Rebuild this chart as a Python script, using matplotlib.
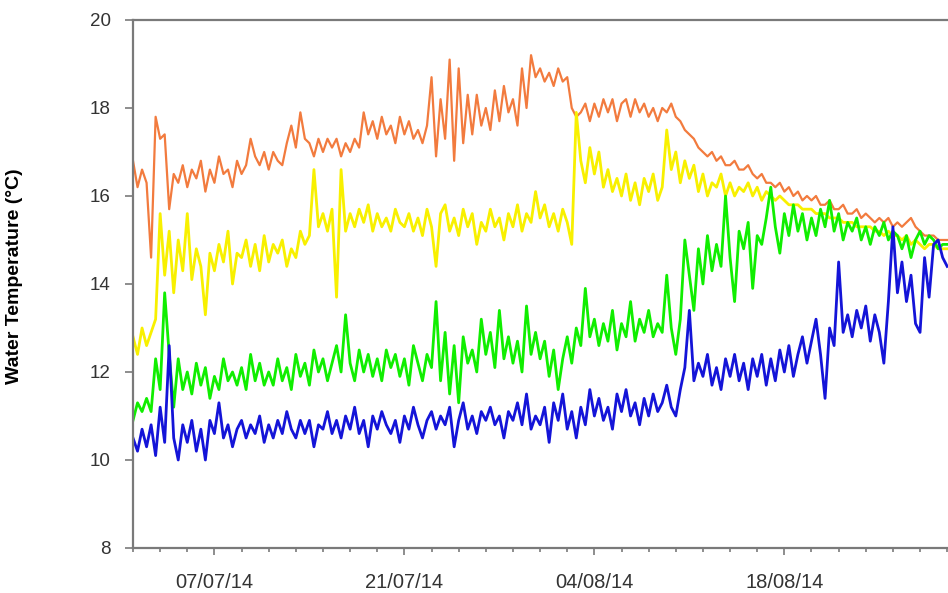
import numpy as np
import pandas as pd
import matplotlib
matplotlib.use("Agg")
import matplotlib.pyplot as plt
import matplotlib.dates as mdates
from matplotlib.ticker import FixedLocator

# water temperature, 3 readings per day from 01/07/14
orange = [16.8, 16.2, 16.6, 16.3, 14.6, 17.8, 17.3, 17.4, 15.7, 16.5, 16.3, 16.7,
          16.2, 16.6, 16.4, 16.8, 16.1, 16.6, 16.3, 16.9, 16.5, 16.6, 16.2, 16.8,
          16.5, 16.7, 17.3, 16.9, 16.7, 17.0, 16.6, 17.0, 16.8, 16.7, 17.2, 17.6,
          17.1, 17.9, 17.3, 17.2, 16.9, 17.3, 17.0, 17.3, 17.1, 17.3, 16.9, 17.2,
          17.0, 17.3, 17.1, 17.9, 17.4, 17.7, 17.3, 17.8, 17.4, 17.6, 17.2, 17.8,
          17.4, 17.7, 17.3, 17.5, 17.2, 17.6, 18.7, 16.9, 18.2, 17.3, 19.1, 16.8,
          18.9, 17.2, 18.3, 17.4, 18.3, 17.6, 18.0, 17.5, 18.4, 17.7, 18.5, 17.9,
          18.2, 17.6, 18.9, 18.0, 19.2, 18.7, 18.9, 18.6, 18.8, 18.5, 18.9, 18.6,
          18.7, 18.0, 17.8, 17.9, 18.1, 17.7, 18.1, 17.8, 18.2, 17.9, 18.2, 17.7,
          18.1, 18.2, 17.8, 18.2, 17.9, 18.1, 17.8, 18.0, 17.7, 18.0, 17.9, 18.1,
          17.8, 17.7, 17.5, 17.4, 17.3, 17.1, 17.0, 16.9, 17.0, 16.8, 16.9, 16.7,
          16.7, 16.8, 16.6, 16.6, 16.7, 16.5, 16.4, 16.5, 16.3, 16.3, 16.2, 16.3,
          16.1, 16.2, 16.0, 16.1, 15.9, 16.0, 15.9, 16.0, 15.8, 15.8, 15.9, 15.7,
          15.7, 15.8, 15.6, 15.6, 15.7, 15.5, 15.6, 15.5, 15.4, 15.5, 15.4, 15.5,
          15.3, 15.4, 15.3, 15.4, 15.5, 15.3, 15.2, 15.1, 15.1, 15.1, 15.0, 15.0,
          15.0]

yellow = [12.8, 12.4, 13.0, 12.6, 12.9, 13.2, 15.6, 14.2, 15.2, 13.8, 15.0, 14.3,
          15.6, 14.1, 14.8, 14.4, 13.3, 14.7, 14.3, 14.9, 14.5, 15.2, 14.0, 14.7,
          14.6, 15.0, 14.4, 14.9, 14.3, 15.1, 14.5, 14.9, 14.7, 15.0, 14.4, 14.8,
          14.6, 15.2, 14.9, 15.1, 16.6, 15.3, 15.6, 15.2, 15.7, 13.7, 16.6, 15.2,
          15.6, 15.3, 15.7, 15.4, 15.8, 15.2, 15.6, 15.3, 15.5, 15.2, 15.7, 15.4,
          15.3, 15.6, 15.2, 15.5, 15.1, 15.7, 15.3, 14.4, 15.6, 15.8, 15.2, 15.5,
          15.1, 15.7, 15.3, 15.6, 14.9, 15.4, 15.2, 15.7, 15.3, 15.5, 15.0, 15.6,
          15.3, 15.8, 15.2, 15.6, 15.4, 16.1, 15.5, 15.8, 15.3, 15.6, 15.2, 15.7,
          15.4, 14.9, 17.9, 16.8, 16.3, 17.1, 16.5, 17.0, 16.2, 16.6, 16.1, 16.4,
          16.0, 16.5, 15.9, 16.3, 15.8, 16.4, 16.1, 16.5, 15.9, 16.2, 17.5, 16.6,
          17.0, 16.3, 16.8, 16.4, 16.7, 16.1, 16.5, 16.0, 16.3, 16.2, 16.5, 16.0,
          16.3, 16.0, 16.2, 16.1, 16.3, 16.0, 16.2, 15.9, 16.1, 16.0, 15.9, 16.0,
          15.9, 15.8, 15.8, 15.8, 15.7, 15.7, 15.7, 15.6, 15.6, 15.6, 15.5, 15.5,
          15.5, 15.4, 15.4, 15.4, 15.3, 15.3, 15.3, 15.3, 15.2, 15.2, 15.1, 15.2,
          15.1, 15.1, 15.0, 15.1, 14.9, 15.0, 14.9, 14.8, 14.9, 14.9, 14.8, 14.8,
          14.8]

green = [10.9, 11.3, 11.1, 11.4, 11.1, 12.3, 11.6, 13.8, 12.4, 11.2, 12.3, 11.6,
         12.0, 11.5, 12.2, 11.7, 12.1, 11.4, 11.9, 11.6, 12.3, 11.8, 12.0, 11.7,
         12.1, 11.6, 12.4, 11.8, 12.2, 11.7, 12.0, 11.7, 12.3, 11.8, 12.1, 11.6,
         12.4, 11.9, 12.2, 11.7, 12.5, 12.0, 12.3, 11.8, 12.2, 12.6, 12.0, 13.3,
         12.2, 11.8, 12.5, 12.0, 12.4, 11.9, 12.3, 11.8, 12.5, 12.1, 12.4, 11.9,
         12.3, 11.7, 12.6, 12.2, 11.8, 12.4, 12.1, 13.6, 11.8, 12.9, 11.5, 12.6,
         11.3, 12.8, 12.2, 12.5, 12.0, 13.2, 12.4, 12.9, 12.1, 13.4, 12.3, 12.8,
         12.2, 12.7, 12.0, 13.5, 12.4, 12.9, 12.3, 12.7, 11.9, 12.5, 11.6, 12.3,
         12.8, 12.2, 13.0, 12.6, 13.9, 12.8, 13.2, 12.6, 13.1, 12.7, 13.4, 12.5,
         13.1, 12.8, 13.6, 12.7, 13.2, 12.9, 13.4, 12.8, 13.1, 12.9, 14.2, 13.0,
         12.4, 13.2, 15.0, 14.2, 13.4, 14.8, 14.0, 15.1, 14.3, 14.9, 14.4, 16.0,
         14.6, 13.6, 15.2, 14.8, 15.4, 13.9, 15.1, 14.9, 15.5, 16.2, 15.3, 14.7,
         15.6, 15.1, 15.8, 15.2, 15.6, 15.0, 15.5, 15.1, 15.7, 15.3, 15.9, 15.2,
         15.6, 15.0, 15.4, 15.2, 15.5, 15.0, 15.3, 14.9, 15.3, 15.1, 15.4, 15.0,
         15.2, 15.1, 14.8, 15.1, 14.6, 15.0, 15.2, 14.9, 15.1, 15.0, 14.8, 14.9,
         14.9]

blue = [10.5, 10.2, 10.7, 10.3, 10.8, 10.1, 11.2, 10.4, 12.6, 10.5, 10.0, 10.8,
        10.4, 10.9, 10.2, 10.7, 10.0, 10.9, 10.6, 11.3, 10.5, 10.8, 10.3, 10.7,
        10.9, 10.5, 10.8, 10.6, 11.0, 10.4, 10.8, 10.5, 10.9, 10.6, 11.1, 10.7,
        10.5, 10.9, 10.6, 10.9, 10.3, 10.8, 10.7, 11.1, 10.6, 10.9, 10.5, 11.0,
        10.7, 11.2, 10.6, 10.9, 10.3, 11.0, 10.7, 11.1, 10.8, 10.6, 10.9, 10.4,
        11.0, 10.7, 11.2, 10.8, 10.5, 10.9, 11.1, 10.7, 11.0, 10.8, 11.2, 10.3,
        10.9, 11.3, 10.7, 11.0, 10.6, 11.1, 10.9, 11.2, 10.8, 11.0, 10.5, 11.1,
        10.9, 11.3, 10.8, 11.5, 10.7, 11.0, 10.8, 11.2, 10.4, 11.3, 10.9, 11.5,
        10.7, 11.1, 10.5, 11.2, 10.8, 11.6, 11.0, 11.4, 10.9, 11.2, 10.7, 11.5,
        11.1, 11.6, 11.0, 11.3, 10.8, 11.4, 11.0, 11.5, 11.1, 11.3, 11.7, 11.2,
        11.0, 11.6, 12.1, 13.4, 11.8, 12.2, 11.9, 12.4, 11.7, 12.1, 11.6, 12.3,
        11.9, 12.4, 11.8, 12.2, 11.6, 12.3, 11.9, 12.4, 11.7, 12.3, 11.8, 12.5,
        12.0, 12.6, 11.9, 12.4, 12.8, 12.2, 12.7, 13.2, 12.4, 11.4, 13.0, 12.6,
        14.5, 12.9, 13.3, 12.8, 13.4, 13.0, 13.5, 12.7, 13.3, 12.9, 12.2, 13.6,
        15.3, 13.8, 14.5, 13.6, 14.2, 13.1, 12.9, 14.6, 13.7, 14.9, 15.0, 14.6,
        14.4]

series_colors = ["#F27B3E", "#F8F000", "#10EE00", "#1414D8"]
series_widths = [1.6, 2.0, 2.0, 2.0]
major_ticks = ["2014-07-07", "2014-07-21", "2014-08-04", "2014-08-18", "2014-09-01"]

times = pd.date_range("2014-07-01", periods=len(orange), freq="8h")

plt.rcParams['font.family'] = ['Liberation Sans', 'DejaVu Sans']

fig = plt.figure(figsize=(9.48, 5.93), dpi=100)
ax = fig.add_axes([0.1403, 0.0759, 0.8597, 0.8904])

for vals, col, w in zip([orange, yellow, green, blue], series_colors, series_widths):
    ax.plot(times[:len(vals)], vals, color=col, lw=w)

ax.set_ylim(8, 20)
ax.set_yticks(np.arange(8, 21, 2))
x0 = mdates.date2num(pd.Timestamp("2014-07-01"))
ax.set_xlim(x0, x0 + 60.06)

ax.xaxis.set_major_locator(FixedLocator(mdates.date2num(pd.to_datetime(major_ticks))))
ax.xaxis.set_minor_locator(FixedLocator(
    mdates.date2num(pd.date_range("2014-07-01", "2014-09-01", freq="2D"))))
ax.xaxis.set_major_formatter(mdates.DateFormatter("%d/%m/%y"))

for side in ["left", "bottom", "top"]:
    ax.spines[side].set_color("#7a7a7a")
    ax.spines[side].set_linewidth(1.6)
ax.spines["right"].set_visible(False)

ax.tick_params(axis="x", which="major", length=5, width=1.2, color="#7a7a7a",
               labelsize=14.5, labelcolor="#333333", pad=13)
ax.tick_params(axis="x", which="minor", length=3, width=1.2, color="#7a7a7a")
ax.tick_params(axis="y", length=6, width=1.2, color="#7a7a7a",
               labelsize=13.5, labelcolor="#333333", pad=10)

ax.set_ylabel("Water Temperature (°C)", fontsize=14, fontweight="bold",
              color="black", labelpad=0)
ax.yaxis.set_label_coords(-0.1355, 0.515)

fig.savefig("out.png", dpi=100)
